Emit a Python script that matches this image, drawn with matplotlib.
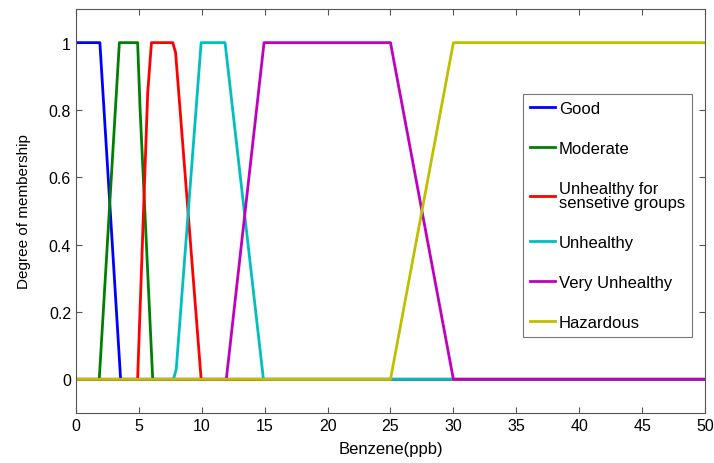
import matplotlib
matplotlib.use("Agg")
import matplotlib.pyplot as plt

plt.rcParams['font.family'] = ['Liberation Sans', 'DejaVu Sans']

# breakpoints (x, membership) of each fuzzy set
good_x = [0, 1.9, 3.55, 50]
good_y = [1, 1, 0, 0]
moderate_x = [0, 1.85, 3.45, 4.9, 5.1, 6.1, 50]
moderate_y = [0, 0, 1, 1, 0.8, 0, 0]
usg_x = [0, 4.9, 5.7, 6.0, 7.7, 7.92, 9.95, 50]
usg_y = [0, 0, 0.85, 1, 1, 0.97, 0, 0]
unhealthy_x = [0, 7.75, 7.97, 9.95, 11.85, 14.9, 50]
unhealthy_y = [0, 0, 0.03, 1, 1, 0, 0]
very_x = [0, 11.95, 14.95, 25, 30, 50]
very_y = [0, 0, 1, 1, 0, 0]
hazard_x = [0, 25, 30, 50]
hazard_y = [0, 0, 1, 1]

labels = ["Good", "Moderate", "Unhealthy for\nsensetive groups",
          "Unhealthy", "Very Unhealthy", "Hazardous"]
colors = ["#0000ff", "#008000", "#ff0000", "#00bfbf", "#bf00bf", "#bfbf00"]

fig = plt.figure(figsize=(7.14, 4.64), dpi=100)
ax = fig.add_axes([0.1064, 0.1078, 0.881, 0.8707])

series = [(good_x, good_y), (moderate_x, moderate_y), (usg_x, usg_y),
          (unhealthy_x, unhealthy_y), (very_x, very_y), (hazard_x, hazard_y)]
for (xs, ys), lab, col in zip(series, labels, colors):
    ax.plot(xs, ys, color=col, lw=2, label=lab)

ax.set_xlim(0, 50)
ax.set_ylim(-0.1, 1.1)
ax.set_xticks(range(0, 51, 5))
ax.set_yticks([0, 0.2, 0.4, 0.6, 0.8, 1])
ax.set_yticklabels(["0", "0.2", "0.4", "0.6", "0.8", "1"])
ax.tick_params(direction="in", top=True, right=True, labelsize=11.5, length=4, color="#555555")
for s in ax.spines.values():
    s.set_color("#555555")
ax.set_xlabel("Benzene(ppb)", fontsize=12, labelpad=6)
ax.set_ylabel("Degree of membership", fontsize=11, labelpad=13)

leg = ax.legend(loc="upper left", bbox_to_anchor=(0.7325, 0.7953), bbox_transform=fig.transFigure,
                fontsize=12, handlelength=1.5, handletextpad=0.25, labelspacing=1.5,
                fancybox=False, edgecolor="#555555", borderpad=0.4, borderaxespad=0)
leg.get_frame().set_linewidth(0.8)
leg.get_texts()[2].set_linespacing(0.95)

fig.savefig("out.png", dpi=100)
